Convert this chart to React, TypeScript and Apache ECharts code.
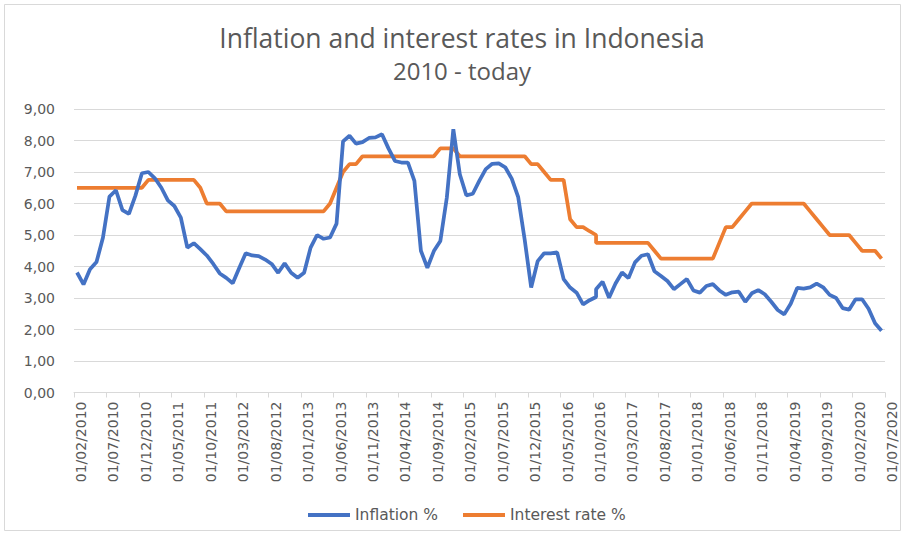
import React, { useEffect, useRef } from "react";
import * as echarts from "echarts";

// Observation dates (mid-month); October 2016 appears twice in the source data
const dates = [
  "2010-02-15", "2010-03-15", "2010-04-15", "2010-05-15", "2010-06-15", "2010-07-15", "2010-08-15", "2010-09-15", "2010-10-15", "2010-11-15", "2010-12-15",
  "2011-01-15", "2011-02-15", "2011-03-15", "2011-04-15", "2011-05-15", "2011-06-15", "2011-07-15", "2011-08-15", "2011-09-15", "2011-10-15", "2011-11-15", "2011-12-15",
  "2012-01-15", "2012-02-15", "2012-03-15", "2012-04-15", "2012-05-15", "2012-06-15", "2012-07-15", "2012-08-15", "2012-09-15", "2012-10-15", "2012-11-15", "2012-12-15",
  "2013-01-15", "2013-02-15", "2013-03-15", "2013-04-15", "2013-05-15", "2013-06-15", "2013-07-15", "2013-08-15", "2013-09-15", "2013-10-15", "2013-11-15", "2013-12-15",
  "2014-01-15", "2014-02-15", "2014-03-15", "2014-04-15", "2014-05-15", "2014-06-15", "2014-07-15", "2014-08-15", "2014-09-15", "2014-10-15", "2014-11-15", "2014-12-15",
  "2015-01-15", "2015-02-15", "2015-03-15", "2015-04-15", "2015-05-15", "2015-06-15", "2015-07-15", "2015-08-15", "2015-09-15", "2015-10-15", "2015-11-15", "2015-12-15",
  "2016-01-15", "2016-02-15", "2016-03-15", "2016-04-15", "2016-05-15", "2016-06-15", "2016-07-15", "2016-08-15", "2016-09-15", "2016-10-15", "2016-10-15", "2016-11-15", "2016-12-15",
  "2017-01-15", "2017-02-15", "2017-03-15", "2017-04-15", "2017-05-15", "2017-06-15", "2017-07-15", "2017-08-15", "2017-09-15", "2017-10-15", "2017-11-15", "2017-12-15",
  "2018-01-15", "2018-02-15", "2018-03-15", "2018-04-15", "2018-05-15", "2018-06-15", "2018-07-15", "2018-08-15", "2018-09-15", "2018-10-15", "2018-11-15", "2018-12-15",
  "2019-01-15", "2019-02-15", "2019-03-15", "2019-04-15", "2019-05-15", "2019-06-15", "2019-07-15", "2019-08-15", "2019-09-15", "2019-10-15", "2019-11-15", "2019-12-15",
  "2020-01-15", "2020-02-15", "2020-03-15", "2020-04-15", "2020-05-15", "2020-06-15",
];

const inflation = [
  3.81, 3.43, 3.91, 4.14, 4.92, 6.22, 6.42, 5.79, 5.67, 6.25, 6.96,
  7.0, 6.8, 6.5, 6.1, 5.92, 5.55, 4.6, 4.74, 4.55, 4.35, 4.08, 3.78,
  3.64, 3.47, 3.95, 4.42, 4.35, 4.33, 4.22, 4.08, 3.8, 4.1, 3.8, 3.64,
  3.8, 4.6, 5.0, 4.88, 4.92, 5.36, 7.97, 8.15, 7.9, 7.95, 8.08, 8.1,
  8.2, 7.75, 7.35, 7.3, 7.3, 6.72, 4.5, 3.96, 4.49, 4.81, 6.19, 8.36,
  6.93, 6.26, 6.31, 6.72, 7.09, 7.26, 7.27, 7.15, 6.79, 6.2, 4.85, 3.33,
  4.17, 4.42, 4.42, 4.45, 3.6, 3.33, 3.17, 2.8, 2.93, 3.03, 3.28, 3.52, 3.01,
  3.46, 3.81, 3.63, 4.13, 4.34, 4.39, 3.85, 3.7, 3.54, 3.28, 3.44, 3.6,
  3.24, 3.17, 3.38, 3.44, 3.24, 3.1, 3.18, 3.2, 2.88, 3.15, 3.25, 3.12,
  2.88, 2.62, 2.48, 2.82, 3.32, 3.3, 3.34, 3.46, 3.34, 3.1, 3.0, 2.68,
  2.63, 2.96, 2.96, 2.66, 2.2, 1.96,
];

const interestRate = [
  6.5, 6.5, 6.5, 6.5, 6.5, 6.5, 6.5, 6.5, 6.5, 6.5, 6.5,
  6.75, 6.75, 6.75, 6.75, 6.75, 6.75, 6.75, 6.75, 6.5, 6.0, 6.0, 6.0,
  5.75, 5.75, 5.75, 5.75, 5.75, 5.75, 5.75, 5.75, 5.75, 5.75, 5.75, 5.75,
  5.75, 5.75, 5.75, 5.75, 6.0, 6.5, 7.0, 7.25, 7.25, 7.5, 7.5, 7.5,
  7.5, 7.5, 7.5, 7.5, 7.5, 7.5, 7.5, 7.5, 7.5, 7.75, 7.75, 7.75,
  7.5, 7.5, 7.5, 7.5, 7.5, 7.5, 7.5, 7.5, 7.5, 7.5, 7.5, 7.25,
  7.25, 7.0, 6.75, 6.75, 6.75, 5.5, 5.25, 5.25, 5.12, 5.0, 4.75, 4.75, 4.75,
  4.75, 4.75, 4.75, 4.75, 4.75, 4.75, 4.5, 4.25, 4.25, 4.25, 4.25, 4.25,
  4.25, 4.25, 4.25, 4.25, 4.75, 5.25, 5.25, 5.5, 5.75, 6.0, 6.0, 6.0,
  6.0, 6.0, 6.0, 6.0, 6.0, 6.0, 5.75, 5.5, 5.25, 5.0, 5.0, 5.0,
  5.0, 4.75, 4.5, 4.5, 4.5, 4.25,
];

const tickLabels = [
  "01/02/2010", "01/07/2010", "01/12/2010", "01/05/2011", "01/10/2011", "01/03/2012",
  "01/08/2012", "01/01/2013", "01/06/2013", "01/11/2013", "01/04/2014", "01/09/2014",
  "01/02/2015", "01/07/2015", "01/12/2015", "01/05/2016", "01/10/2016", "01/03/2017",
  "01/08/2017", "01/01/2018", "01/06/2018", "01/11/2018", "01/04/2019", "01/09/2019",
  "01/02/2020", "01/07/2020",
];

const seriesNames = ["Inflation %", "Interest rate %"];
const titleLines = ["Inflation and interest rates in Indonesia", "2010 - today"];

// months elapsed since 01/02/2010
function monthsSinceStart(d: string): number {
  const [y, m, day] = d.split("-").map(Number);
  return (y - 2010) * 12 + (m - 2) + (day - 1) / 30;
}

const TEXT = "#595959";
const GRID = "#d9d9d9";

export default function App() {
  const ref = useRef<HTMLDivElement>(null);

  useEffect(() => {
    if (!ref.current) return;
    const chart = echarts.init(ref.current, undefined, { renderer: "svg" });
    const xs = dates.map(monthsSinceStart);
    chart.setOption({
      animation: false,
      backgroundColor: "#ffffff",
      graphic: [
        {
          type: "rect",
          shape: { x: 4.5, y: 4.5, width: 896, height: 526 },
          style: { fill: "none", stroke: GRID, lineWidth: 1 },
          silent: true,
        },
        {
          type: "text",
          x: 462,
          y: 38,
          style: {
            text: titleLines[0],
            fill: TEXT,
            font: "26.5px 'Open Sans'",
            textAlign: "center",
            textVerticalAlign: "middle",
          },
        },
        {
          type: "text",
          x: 462,
          y: 70,
          style: {
            text: titleLines[1],
            fill: TEXT,
            font: "24px 'Open Sans'",
            textAlign: "center",
            textVerticalAlign: "middle",
          },
        },
      ],
      legend: {
        data: seriesNames,
        left: 303,
        top: 502,
        icon: "rect",
        itemWidth: 42,
        itemHeight: 4,
        itemGap: 25,
        textStyle: { color: TEXT, fontSize: 15.5, fontFamily: "DejaVu Sans" },
      },
      grid: { left: 74, right: 20, top: 109, bottom: 142.5, containLabel: false },
      xAxis: {
        type: "value",
        min: 0,
        max: 125,
        interval: 5,
        axisLine: { show: true, lineStyle: { color: GRID } },
        axisTick: { show: true, length: 5, lineStyle: { color: GRID } },
        splitLine: { show: false },
        axisLabel: {
          rotate: 90,
          margin: 9,
          color: TEXT,
          fontSize: 14,
          fontFamily: "DejaVu Sans",
          verticalAlign: "top",
          showMinLabel: true,
          showMaxLabel: true,
          formatter: (v: number) => tickLabels[Math.round(v / 5)] ?? "",
        },
      },
      yAxis: {
        type: "value",
        min: 0,
        max: 9,
        interval: 1,
        axisLine: { show: false },
        axisTick: { show: false },
        splitLine: { show: true, lineStyle: { color: GRID, width: 1 } },
        axisLabel: {
          margin: 19,
          color: TEXT,
          fontSize: 14,
          fontFamily: "DejaVu Sans",
          formatter: (v: number) => v.toFixed(2).replace(".", ","),
        },
      },
      series: [
        {
          name: seriesNames[0],
          type: "line",
          data: xs.map((x, i) => [x, inflation[i]]),
          showSymbol: false,
          symbol: "none",
          lineStyle: { color: "#4472C4", width: 3.75 },
          itemStyle: { color: "#4472C4" },
          z: 3,
        },
        {
          name: seriesNames[1],
          type: "line",
          data: xs.map((x, i) => [x, interestRate[i]]),
          showSymbol: false,
          symbol: "none",
          lineStyle: { color: "#ED7D31", width: 3.75 },
          itemStyle: { color: "#ED7D31" },
          z: 2,
        },
      ],
    });
    return () => chart.dispose();
  }, []);

  return (
    <div
      ref={ref}
      style={{ position: "absolute", left: 0, top: 0, width: 905, height: 535, background: "#fff" }}
    />
  );
}
